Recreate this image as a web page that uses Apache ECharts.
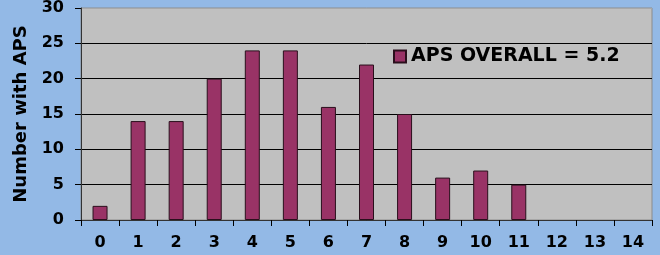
<!DOCTYPE html>
<html>
<head>
<meta charset="utf-8">
<script src="https://cdn.jsdelivr.net/npm/echarts@6/dist/echarts.min.js"></script>
<style>
html, body { margin: 0; padding: 0; background: #93b9e6; }
#chart { width: 660px; height: 255px; }
</style>
</head>
<body>
<div id="chart"></div>
<script>
// APS score buckets and counts
var categories = ['0','1','2','3','4','5','6','7','8','9','10','11','12','13','14'];
var counts = [2, 14, 14, 20, 24, 24, 16, 22, 15, 6, 7, 5, 0, 0, 0];
var seriesName = 'APS OVERALL = 5.2';

// zero bars are not outlined in the original
var barData = counts.map(function (v) {
    return v === 0 ? { value: v, itemStyle: { borderWidth: 0 } } : v;
});

var myChart = echarts.init(document.getElementById('chart'));
var option = {
    backgroundColor: '#93b9e6',
    animation: false,
    textStyle: { fontFamily: 'DejaVu Sans, sans-serif' },
    grid: {
        left: 81, right: 8, top: 8, bottom: 35,
        show: true,
        backgroundColor: '#c0c0c0',
        borderColor: '#8c8c8c',
        borderWidth: 1
    },
    legend: {
        data: [{ name: seriesName, icon: 'rect' }],
        left: 388, top: 42,
        itemWidth: 12, itemHeight: 12,
        textStyle: { fontSize: 19, fontWeight: 'bold', color: '#000' }
    },
    xAxis: {
        type: 'category',
        data: categories,
        axisLine: { lineStyle: { color: '#333', width: 1 } },
        axisTick: { show: true, length: 6, lineStyle: { color: '#000' } },
        axisLabel: { fontSize: 16, fontWeight: 'bold', color: '#000', margin: 15 }
    },
    yAxis: {
        type: 'value',
        min: 0, max: 30, interval: 5,
        name: 'Number with APS',
        nameLocation: 'middle',
        nameGap: 51,
        nameTextStyle: { fontSize: 18, fontWeight: 'bold', color: '#000' },
        axisLine: { show: true, lineStyle: { color: '#333' } },
        axisTick: { show: true, length: 6, lineStyle: { color: '#000' } },
        axisLabel: { fontSize: 16, fontWeight: 'bold', color: '#000', margin: 17 },
        splitLine: { lineStyle: { color: ['#000','#000','#000','#000','#000','#000','#a8a8a8'], width: 1 } }
    },
    series: [{
        name: seriesName,
        type: 'bar',
        data: barData,
        barWidth: 15,
        itemStyle: { color: '#993366', borderColor: '#2a0f1c', borderWidth: 1 }
    }]
};
myChart.setOption(option);
</script>
</body>
</html>
